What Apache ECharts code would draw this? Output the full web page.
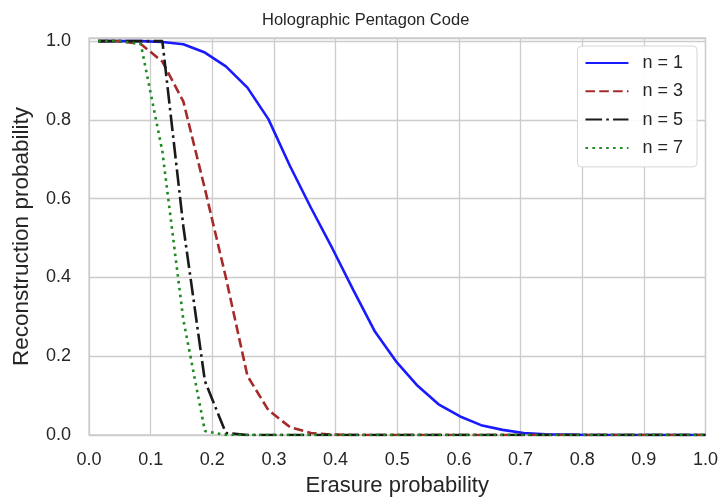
<!DOCTYPE html>
<html>
<head>
<meta charset="utf-8">
<script src="https://cdn.jsdelivr.net/npm/echarts@6/dist/echarts.min.js"></script>
<style>
  html, body { margin: 0; padding: 0; background: #ffffff; }
  #chart { width: 721px; height: 502px; }
</style>
</head>
<body>
<div id="chart"></div>
<script>
// Erasure probabilities at which the reconstruction rate was sampled
const erasure = [0.015, 0.05, 0.084, 0.119, 0.153, 0.188, 0.222, 0.257, 0.291, 0.326,
                 0.36, 0.395, 0.429, 0.464, 0.498, 0.533, 0.567, 0.602, 0.636, 0.671,
                 0.705, 0.74, 0.774, 0.809, 0.843, 0.878, 0.912, 0.947, 0.981, 1.0];

// Reconstruction probability for each code size n
const recN1 = [1, 1, 1, 0.998, 0.992, 0.971, 0.936, 0.882, 0.802, 0.683,
               0.577, 0.473, 0.367, 0.262, 0.187, 0.125, 0.078, 0.047, 0.025, 0.013,
               0.005, 0.002, 0.001, 0, 0, 0, 0, 0, 0, 0];
const recN3 = [1, 1, 0.993, 0.948, 0.847, 0.625, 0.40, 0.15, 0.063, 0.02,
               0.005, 0.001, 0, 0, 0, 0, 0, 0, 0, 0,
               0, 0, 0, 0, 0, 0, 0, 0, 0, 0];
const recN5 = [1, 1, 1, 1, 0.53, 0.137, 0.005, 0, 0, 0,
               0, 0, 0, 0, 0, 0, 0, 0, 0, 0,
               0, 0, 0, 0, 0, 0, 0, 0, 0, 0];
const recN7 = [1, 1, 0.993, 0.72, 0.293, 0.01, 0, 0, 0, 0,
               0, 0, 0, 0, 0, 0, 0, 0, 0, 0,
               0, 0, 0, 0, 0, 0, 0, 0, 0, 0];

const seriesNames = ['n = 1', 'n = 3', 'n = 5', 'n = 7'];
const xTicks = [0, 0.1, 0.2, 0.3, 0.4, 0.5, 0.6, 0.7, 0.8, 0.9, 1.0];

const FONT = '"Liberation Sans", Arial, sans-serif';
const TEXT = '#262626';
const GRID = '#cccccc';
const LW = 2.6;

function pairs(values) {
  return erasure.map((x, i) => [x, values[i]]);
}

function lineSeries(name, values, color, dash) {
  return {
    name: name,
    type: 'line',
    data: pairs(values),
    showSymbol: false,
    symbol: 'none',
    smooth: false,
    lineStyle: { color: color, width: LW, type: dash, cap: 'butt' },
    itemStyle: { color: color },
    emphasis: { disabled: true }
  };
}

const chart = echarts.init(document.getElementById('chart'), null, { renderer: 'canvas' });

chart.setOption({
  animation: false,
  backgroundColor: '#ffffff',
  textStyle: { fontFamily: FONT, color: TEXT },
  title: {
    text: 'Holographic Pentagon Code',
    left: 257,
    top: 7,
    textStyle: { fontFamily: FONT, fontSize: 16.5, fontWeight: 'normal', color: TEXT }
  },
  grid: {
    left: 89, right: 15, top: 38, bottom: 65,
    show: true,
    borderColor: GRID,
    borderWidth: 1.3,
    backgroundColor: 'transparent'
  },
  xAxis: {
    type: 'value',
    min: 0, max: 1, interval: 0.1,
    name: 'Erasure probability',
    nameLocation: 'middle',
    nameGap: 40,
    nameTextStyle: { fontFamily: FONT, fontSize: 22, color: TEXT },
    axisLine: { show: false },
    axisTick: { show: false },
    axisLabel: {
      margin: 16,
      fontFamily: FONT, fontSize: 18, color: TEXT,
      formatter: v => {
        const hit = xTicks.find(t => Math.abs(t - v) < 1e-9);
        return hit === undefined ? '' : hit.toFixed(1);
      }
    },
    splitLine: { show: true, lineStyle: { color: GRID, width: 1.3 } }
  },
  yAxis: {
    type: 'value',
    min: 0, max: 1.008, interval: 0.2,
    name: 'Reconstruction probability',
    nameLocation: 'middle',
    nameGap: 56,
    nameTextStyle: { fontFamily: FONT, fontSize: 22.5, color: TEXT },
    axisLine: { show: false },
    axisTick: { show: false },
    axisLabel: {
      margin: 18,
      fontFamily: FONT, fontSize: 18, color: TEXT,
      formatter: v => (Math.abs(v * 5 - Math.round(v * 5)) < 1e-6 ? v.toFixed(1) : '')
    },
    splitLine: { show: true, lineStyle: { color: GRID, width: 1.3 } }
  },
  legend: {
    data: seriesNames,
    orient: 'vertical',
    right: 24,
    top: 46,
    padding: [8, 14, 10, 7],
    itemWidth: 43,
    itemHeight: 18,
    itemGap: 10.3,
    backgroundColor: 'rgba(255,255,255,0.9)',
    borderColor: '#d6d6d6',
    borderWidth: 1,
    borderRadius: 4,
    itemStyle: { opacity: 0 },
    textStyle: { fontFamily: FONT, fontSize: 18, color: TEXT, padding: [0, 0, 0, 9] }
  },
  series: [
    lineSeries(seriesNames[0], recN1, '#1a1aff', 'solid'),
    lineSeries(seriesNames[1], recN3, '#a52a2a', [9.6, 4.2]),
    lineSeries(seriesNames[2], recN5, '#1a1a1a', [16.6, 4.2, 2.6, 4.2]),
    lineSeries(seriesNames[3], recN7, '#1f8a1f', [2.6, 4.3])
  ]
});
</script>
</body>
</html>
